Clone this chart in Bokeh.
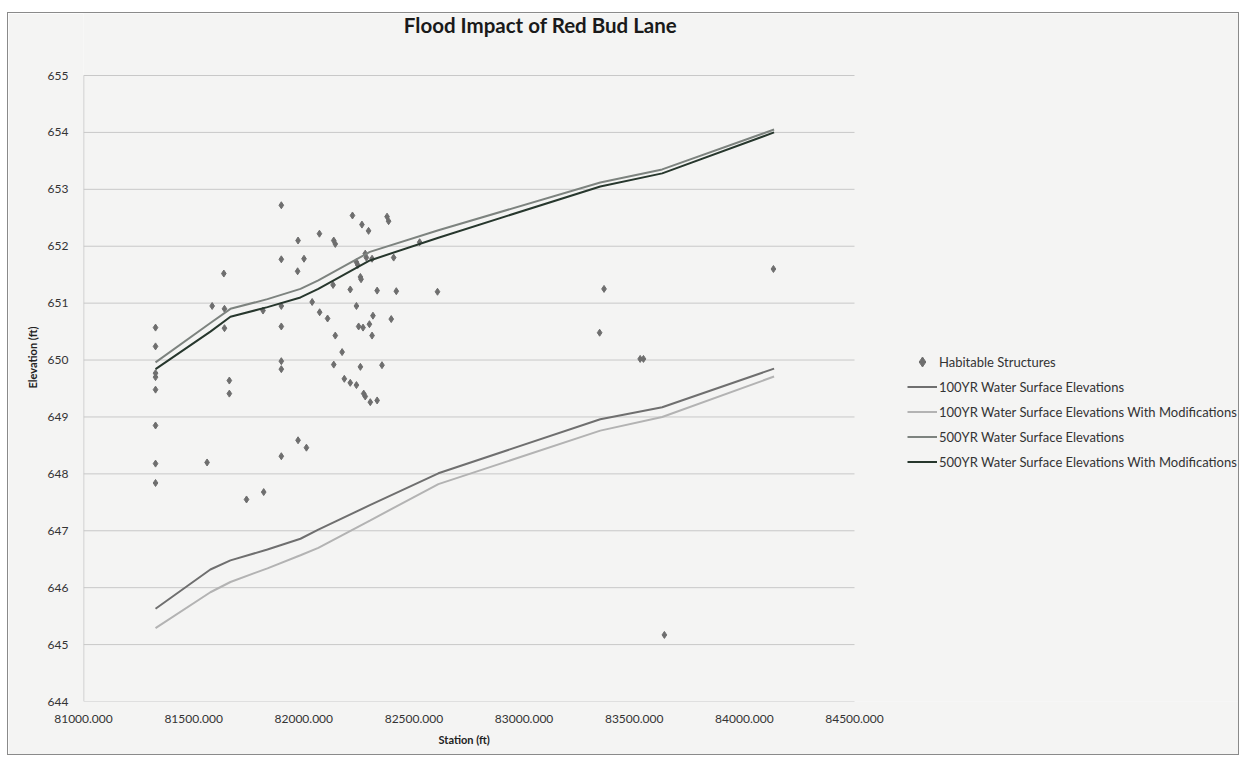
from bokeh.plotting import figure
from bokeh.models import Legend, LegendItem, PrintfTickFormatter, FixedTicker, Range1d, Title, Label
from bokeh.embed import file_html
from bokeh.resources import INLINE

# ---- data ----
stations = [81327, 81576, 81667, 81835, 81985, 82066, 82300, 82611, 83346, 83627, 84135]
wse_100 = [645.63, 646.32, 646.48, 646.67, 646.86, 647.02, 647.45, 648.01, 648.96, 649.17, 649.85]
wse_100_mod = [645.29, 645.92, 646.10, 646.34, 646.57, 646.70, 647.18, 647.82, 648.76, 649.00, 649.71]
wse_500 = [649.96, 650.65, 650.90, 651.07, 651.25, 651.40, 651.90, 652.28, 653.12, 653.35, 654.05]
wse_500_mod = [649.84, 650.50, 650.76, 650.93, 651.10, 651.25, 651.75, 652.15, 653.05, 653.28, 654.00]

struct_station = [81327, 81327, 81327, 81327, 81327, 81327, 81327, 81327,
                  81561, 81584, 81637, 81640, 81640, 81662, 81662, 81740, 81815, 81818,
                  81898, 81898, 81898, 81898, 81898, 81898, 81898,
                  81972, 81974, 81974, 82001, 82012, 82038, 82071, 82072, 82108, 82133,
                  82136, 82136, 82143, 82143, 82174, 82184, 82211, 82211, 82221,
                  82239, 82239, 82239, 82245, 82249, 82257, 82257, 82260, 82264, 82269,
                  82272, 82279, 82279, 82284, 82294, 82298, 82302, 82310, 82310, 82314,
                  82333, 82333, 82355, 82378, 82385, 82397, 82408, 82420, 82526, 82607,
                  83343, 83363, 83527, 83542, 83637, 84132]
struct_elev = [650.57, 650.24, 649.77, 649.70, 649.48, 648.85, 648.18, 647.84,
               648.20, 650.95, 651.52, 650.90, 650.56, 649.64, 649.41, 647.55, 650.87, 647.68,
               652.72, 651.77, 650.95, 650.59, 649.98, 649.84, 648.31,
               651.56, 652.10, 648.59, 651.78, 648.46, 651.02, 652.22, 650.84, 650.73, 651.32,
               652.10, 649.92, 652.04, 650.43, 650.14, 649.67, 649.60, 651.24, 652.54,
               649.56, 651.72, 650.95, 651.67, 650.59, 651.46, 649.88, 651.42, 652.38, 650.57,
               649.41, 649.36, 651.87, 651.80, 652.27, 650.63, 649.26, 651.78, 650.43, 650.78,
               649.29, 651.22, 649.91, 652.52, 652.44, 650.72, 651.80, 651.21, 652.07, 651.20,
               650.48, 651.25, 650.02, 650.02, 645.17, 651.60]

x_ticks = [81000, 81500, 82000, 82500, 83000, 83500, 84000, 84500]
y_ticks = [644, 645, 646, 647, 648, 649, 650, 651, 652, 653, 654, 655]

TITLE = "Flood Impact of Red Bud Lane"
FONT = "Lato"
BG = "#f4f4f3"

# layout in page pixels: the frame is enlarged so title and legend can live inside it,
# while the data area (ticks range) keeps the reference's position.
FRAME_LEFT, DATA_RIGHT, FRAME_RIGHT = 83, 854, 1240
FRAME_TOP, DATA_TOP, FRAME_BOTTOM = 13, 75, 701
x_scale = (x_ticks[-1] - x_ticks[0]) / (DATA_RIGHT - FRAME_LEFT)
y_scale = (y_ticks[-1] - y_ticks[0]) / (FRAME_BOTTOM - DATA_TOP)
x_end = x_ticks[0] + x_scale * (FRAME_RIGHT - FRAME_LEFT)
y_end = y_ticks[0] + y_scale * (FRAME_BOTTOM - FRAME_TOP)


def px_x(px):
    return x_ticks[0] + x_scale * (px - FRAME_LEFT)


def px_y(py):
    return y_ticks[0] + y_scale * (FRAME_BOTTOM - py)


p = figure(width=1232, height=743,
           x_range=Range1d(x_ticks[0], x_end), y_range=Range1d(y_ticks[0], y_end),
           output_backend="svg", toolbar_location=None,
           min_border_left=75, min_border_right=0, min_border_top=0, min_border_bottom=55,
           background_fill_color=BG, border_fill_color=BG)
p.margin = (12, 0, 0, 7)
p.styles = {"border": "1px solid #8a8a8a"}
p.outline_line_color = None

p.add_layout(Label(x=px_x(540), y=px_y(24), text=TITLE, text_align="center",
                   text_baseline="middle", text_font=FONT, text_font_size="20.5px",
                   text_font_style="bold", text_color="#1a1a1a"))

p.xaxis.ticker = FixedTicker(ticks=x_ticks)
p.yaxis.ticker = FixedTicker(ticks=y_ticks)
p.xaxis.formatter = PrintfTickFormatter(format="%.3f")
for ax in (p.xaxis[0], p.yaxis[0]):
    ax.major_tick_line_color = None
    ax.minor_tick_line_color = None
    ax.major_tick_out = 0
    ax.axis_line_color = None
    ax.major_label_text_font = FONT
    ax.major_label_text_font_size = "12px"
    ax.major_label_text_color = "#333333"
    ax.axis_label_text_font = FONT
    ax.axis_label_text_font_size = "11px"
    ax.axis_label_text_font_style = "bold"
    ax.axis_label_text_color = "#222222"
p.yaxis.axis_label = "Elevation (ft)"
p.xaxis.major_label_standoff = 13
p.yaxis.major_label_standoff = 15
p.yaxis.axis_label_standoff = 6

p.add_layout(Title(text="Station (ft)", align="left", offset=355, standoff=11,
                   text_font=FONT, text_font_size="11px", text_font_style="bold",
                   text_color="#222222"), "below")

p.xgrid.grid_line_color = None
p.ygrid.grid_line_color = None
# horizontal gridlines and left axis line limited to the data area
p.segment(x0=[x_ticks[0]] * len(y_ticks), x1=[x_ticks[-1]] * len(y_ticks),
          y0=y_ticks, y1=y_ticks, line_color="#c8c8c8", line_width=1)
p.segment(x0=[x_ticks[0]], x1=[x_ticks[0]], y0=[y_ticks[0]], y1=[y_ticks[-1]],
          line_color="#c4c4c4", line_width=1.5)

r_struct = p.scatter(struct_station, struct_elev, marker="diamond", size=7,
                     fill_color="#6e6e6e", line_color="#6e6e6e")
r100 = p.line(stations, wse_100, line_color="#6f6f6f", line_width=2)
r100m = p.line(stations, wse_100_mod, line_color="#b3b3b3", line_width=2)
r500 = p.line(stations, wse_500, line_color="#7d837f", line_width=2)
r500m = p.line(stations, wse_500_mod, line_color="#27372d", line_width=2)

legend = Legend(items=[
    LegendItem(label="Habitable Structures", renderers=[r_struct]),
    LegendItem(label="100YR Water Surface Elevations", renderers=[r100]),
    LegendItem(label="100YR Water Surface Elevations With Modifications", renderers=[r100m]),
    LegendItem(label="500YR Water Surface Elevations", renderers=[r500]),
    LegendItem(label="500YR Water Surface Elevations With Modifications", renderers=[r500m]),
], location=(907 - FRAME_LEFT, FRAME_BOTTOM - 474))
legend.label_text_font = FONT
legend.label_text_font_size = "13px"
legend.label_text_color = "#333333"
legend.glyph_width = 30
legend.glyph_height = 25
legend.label_height = 25
legend.label_standoff = 2
legend.spacing = 0
legend.padding = 0
legend.margin = 0
legend.border_line_color = None
legend.background_fill_alpha = 0
p.add_layout(legend)

open("out.html", "w").write(file_html(p, INLINE))
